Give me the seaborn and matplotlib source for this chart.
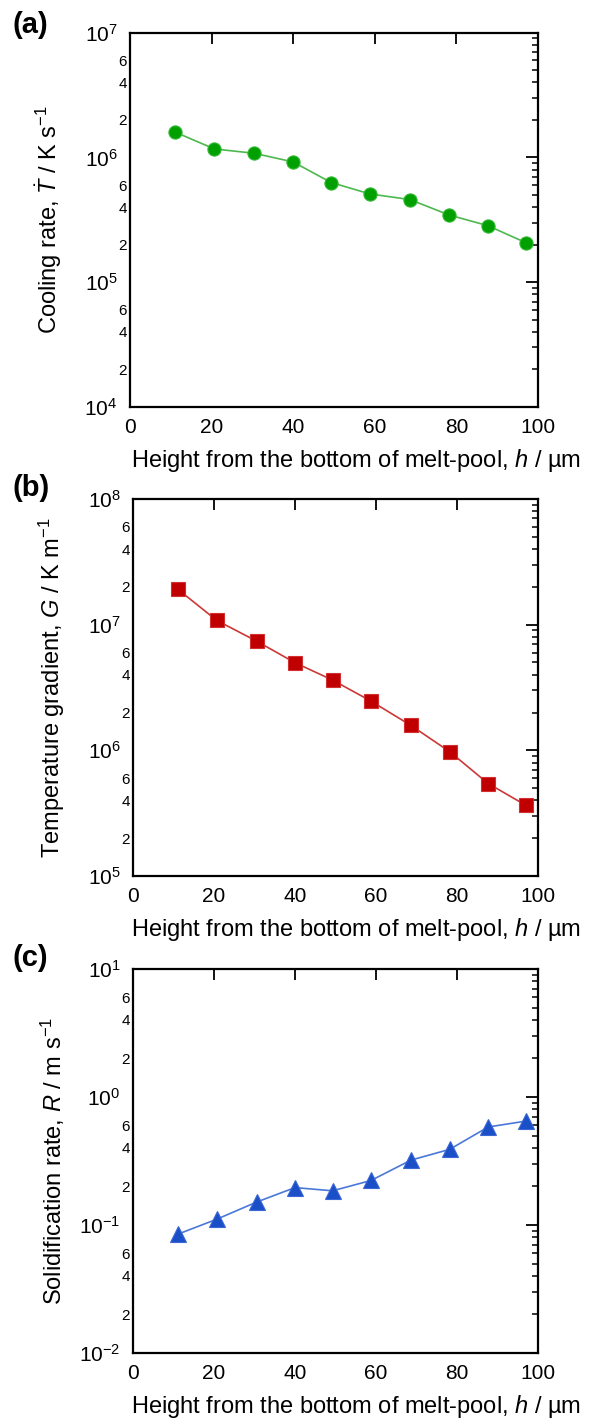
import numpy as np
import pandas as pd
import matplotlib
matplotlib.use("Agg")
import matplotlib.pyplot as plt
import matplotlib.ticker as mticker
import seaborn as sns

# ---- data ----
height_um = [11.0, 20.7, 30.5, 40.0, 49.3, 58.8, 68.6, 78.2, 87.7, 97.1]
cooling_rate = [1.60e6, 1.17e6, 1.08e6, 9.2e5, 6.3e5, 5.1e5, 4.6e5, 3.46e5, 2.84e5, 2.07e5]
temp_gradient = [1.92e7, 1.08e7, 7.4e6, 4.98e6, 3.62e6, 2.46e6, 1.58e6, 9.75e5, 5.44e5, 3.64e5]
solid_rate = [0.0846, 0.111, 0.151, 0.196, 0.185, 0.223, 0.321, 0.390, 0.583, 0.649]
x_ticks = [0, 20, 40, 60, 80, 100]
panel_tags = ["(a)", "(b)", "(c)"]
y_labels = [r"Cooling rate, $\dot{T}$ / K s$^{-1}$",
            r"Temperature gradient, $G$ / K m$^{-1}$",
            r"Solidification rate, $R$ / m s$^{-1}$"]
x_label = r"Height from the bottom of melt-pool, $h$ / µm"
y_limits = [(1e4, 1e7), (1e5, 1e8), (1e-2, 1e1)]

sns.set_theme(style="white")
plt.rcParams["font.family"] = ["Liberation Sans", "DejaVu Sans"]
plt.rcParams["mathtext.fontset"] = "custom"
plt.rcParams["mathtext.rm"] = "Liberation Sans"
plt.rcParams["mathtext.it"] = "Liberation Sans:italic"
plt.rcParams["mathtext.bf"] = "Liberation Sans:bold"
for key in ["text.color", "axes.labelcolor", "xtick.color", "ytick.color", "axes.edgecolor"]:
    plt.rcParams[key] = "black"

W, H = 596, 1419
fig = plt.figure(figsize=(W / 100, H / 100), dpi=100)

# axes boxes in pixels: left, right, top, bottom
boxes = [(130, 538, 32.7, 407), (133, 538, 499, 876), (133, 538, 969, 1353)]
tag_y = [11, 474, 944]
ylab_right = [64, 67, 67]

series = [cooling_rate, temp_gradient, solid_rate]
markers = ["o", "s", "^"]
msizes = [9.5, 9.5, 11]
mcolors = ["#00A000", "#C00000", "#1A4FC8"]
lcolors = ["#4DB84D", "#CC3838", "#4A78D8"]
medges = ["#33B833", "#D23030", "#3A66D6"]


def minor_fmt(v, pos):
    if v <= 0:
        return ""
    e = np.floor(np.log10(v) + 1e-9)
    m = v / 10 ** e
    mr = int(round(m))
    if abs(m - mr) < 1e-6 and mr in (2, 4, 6):
        return str(mr)
    return ""


for i in range(3):
    l, r, t, b = boxes[i]
    ax = fig.add_axes([l / W, 1 - b / H, (r - l) / W, (b - t) / H])
    df = pd.DataFrame({"h": height_um, "v": series[i]})
    sns.lineplot(data=df, x="h", y="v", ax=ax, color=lcolors[i], linewidth=1.2,
                 marker=markers[i], markersize=msizes[i],
                 markerfacecolor=mcolors[i], markeredgecolor=medges[i],
                 markeredgewidth=0.8)
    ax.set_yscale("log")
    ax.set_ylim(*y_limits[i])
    ax.set_xlim(0, 100)
    ax.set_xticks(x_ticks)
    ax.xaxis.set_major_formatter(mticker.FormatStrFormatter("%d"))
    ax.yaxis.set_major_locator(mticker.LogLocator(base=10, numticks=10))
    ax.yaxis.set_minor_locator(mticker.LogLocator(base=10, subs=np.arange(2, 10), numticks=20))
    ax.yaxis.set_minor_formatter(mticker.FuncFormatter(minor_fmt))
    for sp in ax.spines.values():
        sp.set_visible(True)
        sp.set_linewidth(1.6)
        sp.set_color("black")
    ax.tick_params(axis="both", which="both", direction="in", top=True, right=True,
                   color="black", labelcolor="black")
    ax.tick_params(axis="x", which="major", length=8, width=1.3, labelsize=15, pad=8)
    ax.tick_params(axis="y", which="major", length=9, width=1.3, labelsize=15, pad=9)
    ax.tick_params(axis="y", which="minor", length=4.5, width=1.1, labelsize=11, pad=2)
    ax.set_xlabel(x_label, fontsize=17, x=(355.5 - l) / (r - l), ha="center",
                  labelpad=7, color="black")
    ax.set_ylabel(y_labels[i], fontsize=17, color="black")
    ax.yaxis.set_label_coords((ylab_right[i] - l) / (r - l), 0.5)
    ax.grid(False)
    fig.text(12 / W, 1 - tag_y[i] / H, panel_tags[i], fontsize=21, fontweight="bold",
             va="top", ha="left", color="black")

fig.savefig("out.png", dpi=100, facecolor="white")
